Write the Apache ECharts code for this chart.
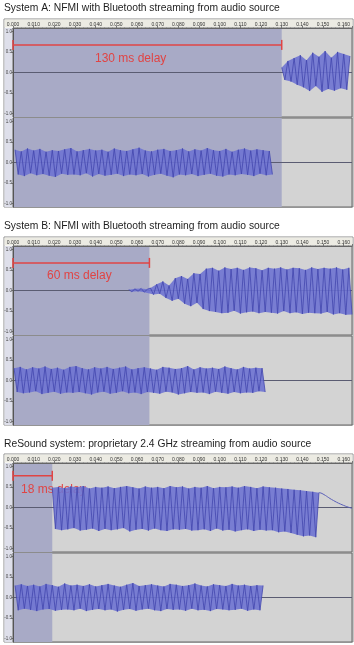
<!DOCTYPE html>
<html>
<head>
<meta charset="utf-8">
<script src="https://cdn.jsdelivr.net/npm/echarts@6/dist/echarts.min.js"></script>
<style>
  html, body { margin: 0; padding: 0; background: #fff; }
  #chart { width: 354px; height: 645px; }
</style>
</head>
<body>
<div id="chart"></div>
<script>
// ---- data ----
const panelTitles = [
  'System A: NFMI with Bluetooth streaming from audio source',
  'System B: NFMI with Bluetooth streaming from audio source',
  'ReSound system: proprietary 2.4 GHz streaming from audio source'
]
const delayLabels = ['130 ms delay', '60 ms delay', '18 ms delay']
const delayEnd = [130, 66, 19]          // ms, end of the shaded span
const timeMax = 164                      // ms shown on the ruler
const yTicks = [-1, -0.5, 0, 0.5, 1]
const STEP = 1.5                         // ms between envelope samples

// envelope samples (alternating peak / trough), start time in ms
const aTopStart = 130
const aTopWave = [0.12,-0.18,0.28,-0.22,0.35,-0.30,0.42,-0.36,0.30,-0.45,0.48,-0.33,0.38,-0.47,0.52,-0.40,0.36,-0.44,0.50,-0.38,0.45,-0.42,0.40]
const aBotStart = 1
const aBotWave = [0.31,-0.29,0.27,-0.33,0.34,-0.26,0.29,-0.31,0.33,-0.28,0.26,-0.32,0.30,-0.35,0.28,-0.27,0.32,-0.30,0.35,-0.29,
  0.27,-0.31,0.30,-0.26,0.33,-0.34,0.29,-0.28,0.31,-0.32,0.26,-0.30,0.34,-0.27,0.30,-0.33,0.28,-0.29,0.32,-0.31,
  0.36,-0.28,0.29,-0.34,0.27,-0.30,0.31,-0.27,0.33,-0.32,0.28,-0.36,0.30,-0.29,0.34,-0.31,0.27,-0.28,0.32,-0.33,
  0.29,-0.30,0.35,-0.27,0.30,-0.32,0.28,-0.34,0.33,-0.29,0.26,-0.31,0.31,-0.28,0.34,-0.30,0.29,-0.33,0.32,-0.27,
  0.30,-0.31,0.28,-0.29]
const bTopStart = 56
const bTopWave = [0.02,-0.03,0.04,-0.02,0.05,-0.04,0.03,
  0.06,-0.10,0.15,-0.08,0.22,-0.18,0.12,-0.25,0.30,-0.20,0.35,-0.32,0.28,-0.38,0.42,-0.30,0.40,-0.45,
  0.53,-0.50,0.55,-0.52,0.48,-0.55,0.56,-0.54,0.52,-0.49,0.55,-0.56,0.50,-0.53,0.56,-0.51,0.54,-0.55,0.49,-0.52,
  0.55,-0.54,0.53,-0.56,0.56,-0.50,0.51,-0.55,0.55,-0.53,0.54,-0.57,0.50,-0.54,0.56,-0.55,0.52,-0.56,0.55,-0.52,
  0.53,-0.58,0.56,-0.55,0.51,-0.59,0.55,-0.58]
const bBotStart = 0.5
const bBotWave = [0.30,-0.28,0.33,-0.31,0.27,-0.29,0.32,-0.26,0.29,-0.33,0.34,-0.30,0.28,-0.27,0.31,-0.32,0.26,-0.29,0.33,-0.30,
  0.35,-0.28,0.30,-0.31,0.27,-0.34,0.32,-0.29,0.29,-0.27,0.33,-0.32,0.28,-0.30,0.31,-0.26,0.34,-0.31,0.27,-0.29,
  0.30,-0.33,0.32,-0.28,0.29,-0.30,0.26,-0.32,0.33,-0.27,0.31,-0.29,0.28,-0.34,0.30,-0.31,0.35,-0.28,0.27,-0.30,
  0.32,-0.29,0.29,-0.33,0.31,-0.27,0.28,-0.30,0.34,-0.32,0.30,-0.28,0.27,-0.31,0.33,-0.29,0.29,-0.30,0.31,-0.26,
  0.30,-0.28]
const cTopStart = 19
const cTopWave = [0.48,-0.52,0.50,-0.55,0.47,-0.53,0.51,-0.50,0.49,-0.56,0.52,-0.54,0.46,-0.51,0.50,-0.57,0.48,-0.52,0.51,-0.55,
  0.47,-0.53,0.50,-0.50,0.52,-0.58,0.49,-0.54,0.46,-0.52,0.51,-0.56,0.48,-0.51,0.50,-0.55,0.47,-0.57,0.52,-0.53,
  0.49,-0.54,0.51,-0.52,0.46,-0.56,0.50,-0.55,0.48,-0.53,0.52,-0.57,0.47,-0.51,0.50,-0.56,0.49,-0.54,0.51,-0.58,
  0.48,-0.55,0.52,-0.53,0.50,-0.57,0.47,-0.54,0.51,-0.56,0.49,-0.55,0.48,-0.60,0.46,-0.58,0.45,-0.62,0.43,-0.66,
  0.42,-0.70,0.40,-0.68,0.38,-0.72,0.36]
// decay tail after the ReSound burst: [ms, amplitude]
const cTopTail = [[148, 0.36], [149.5, 0.34], [155, 0.17], [160, 0.05], [164, -0.02]]
const cBotStart = 1
const cBotWave = [0.29,-0.31,0.32,-0.27,0.28,-0.30,0.31,-0.33,0.27,-0.29,0.33,-0.28,0.30,-0.32,0.26,-0.30,0.34,-0.29,0.29,-0.31,
  0.31,-0.27,0.28,-0.33,0.32,-0.30,0.27,-0.28,0.30,-0.31,0.33,-0.29,0.29,-0.34,0.26,-0.30,0.31,-0.28,0.35,-0.32,
  0.28,-0.29,0.30,-0.27,0.32,-0.31,0.29,-0.33,0.27,-0.28,0.33,-0.30,0.31,-0.29,0.28,-0.32,0.30,-0.27,0.34,-0.31,
  0.29,-0.30,0.27,-0.33,0.32,-0.28,0.30,-0.29,0.28,-0.31,0.33,-0.30,0.29,-0.27,0.31,-0.32,0.28,-0.29,0.30,-0.31,
  0.29]

// ---- layout ----
const titleY = [8, 226, 444]
const rulerTop = [19, 237, 454]
const trackTop = [[28, 118], [246, 336], [463, 553]]
const TRACK_H = 89
const markLevel = [0.67, 0.67, 0.77]
const redTextPos = [[95, 59], [47, 276], [21, 490]]

const waves = [
  [[aTopStart, aTopWave], [aBotStart, aBotWave]],
  [[bTopStart, bTopWave], [bBotStart, bBotWave]],
  [[cTopStart, cTopWave], [cBotStart, cBotWave]]
]

const toPairs = (start, vals) => vals.map((v, i) => [start + i * STEP, v])

const RED = '#e04444'
const FONT = 'Liberation Sans, Arial, sans-serif'
const grid = [], xAxis = [], yAxis = [], series = [], graphic = []

// filled band between the peaks and the troughs of one envelope
function bandSeries(g, pts) {
  const upper = pts.filter(d => d[1] >= 0)
  const lower = pts.filter(d => d[1] < 0).reverse()
  return {
    type: 'custom', xAxisIndex: g, yAxisIndex: g, zlevel: 1, z: 2, silent: true,
    data: [[0, 0]],
    renderItem: (params, api) => ({
      type: 'polygon',
      shape: { points: upper.concat(lower).map(d => api.coord(d)) },
      style: { fill: '#6e73d1', opacity: 0.9 }
    })
  }
}

for (let p = 0; p < 3; p++) {
  const endY = trackTop[p][1] + TRACK_H
  graphic.push(
    { type: 'rect', z: -1, shape: { x: 4, y: rulerTop[p], width: 349, height: endY - rulerTop[p] },
      style: { fill: '#ffffff', stroke: '#8a8a8a', lineWidth: 1 } },
    { type: 'rect', z: -1, shape: { x: 4.5, y: rulerTop[p] + 0.5, width: 348, height: trackTop[p][0] - rulerTop[p] - 1 },
      style: { fill: '#ecebe3' } },
    { type: 'rect', z: -1, shape: { x: 4.5, y: trackTop[p][0], width: 8.5, height: endY - trackTop[p][0] },
      style: { fill: '#dedfea' } },
    { type: 'text', z: 1, x: 4, y: titleY[p],
      style: { text: panelTitles[p], fontSize: 10.3, fontFamily: FONT, fill: '#1e1e1e', verticalAlign: 'middle' } },
    { type: 'text', z: 20, x: redTextPos[p][0], y: redTextPos[p][1],
      style: { text: delayLabels[p], fontSize: 12, fontFamily: FONT, fill: RED, verticalAlign: 'middle' } }
  )

  for (let t = 0; t < 2; t++) {
    const g = p * 2 + t
    const pts = toPairs(waves[p][t][0], waves[p][t][1])
    grid.push({ left: 13, right: 2, top: trackTop[p][t], height: TRACK_H, show: true,
      backgroundColor: '#d3d3d3', borderColor: '#666', borderWidth: 1 })
    xAxis.push({
      gridIndex: g, type: 'value', min: 0, max: timeMax, interval: 10, position: 'top',
      show: t === 0, z: 5,
      axisLine: { show: true, onZero: false, lineStyle: { color: '#666', width: 1 } },
      axisTick: { show: true, length: 2, lineStyle: { color: '#777' } },
      minorTick: { show: true, splitNumber: 5, length: 1, lineStyle: { color: '#999' } },
      axisLabel: { fontSize: 5, color: '#333', margin: 1, formatter: v => (v / 1000).toFixed(3) },
      splitLine: { show: false }
    })
    yAxis.push({
      gridIndex: g, type: 'value', min: -1.08, max: 1.08, z: 5,
      axisLine: { show: true, onZero: false, lineStyle: { color: '#555' } },
      axisTick: { show: true, length: 1.5, customValues: yTicks, lineStyle: { color: '#666' } },
      axisLabel: { fontSize: 4.5, color: '#444', margin: 1, customValues: yTicks,
        formatter: v => v.toFixed(1) },
      splitLine: { show: false }
    })
    // zero line + shaded (selected) span
    series.push({
      type: 'line', xAxisIndex: g, yAxisIndex: g, z: 1, silent: true,
      data: [[0, 0], [timeMax, 0]], symbol: 'none',
      lineStyle: { color: '#5a5c72', width: 1 },
      markArea: { silent: true, itemStyle: { color: '#a8aac6', opacity: 1 },
        data: [[{ xAxis: 0 }, { xAxis: delayEnd[p] }]] }
    })
    // waveform: filled envelope plus the peak-to-trough strokes
    series.push(bandSeries(g, pts))
    series.push({
      type: 'line', xAxisIndex: g, yAxisIndex: g, zlevel: 1, z: 3, silent: true,
      data: pts, symbol: 'none',
      lineStyle: { color: '#4246ad', width: 0.8 }
    })
    if (p === 2 && t === 0) {
      series.push({
        type: 'line', xAxisIndex: g, yAxisIndex: g, zlevel: 1, z: 3, silent: true, smooth: true,
        data: cTopTail, symbol: 'none', lineStyle: { color: '#5a5fb8', width: 1 }
      })
    }
    if (t === 0) {
      // red delay marker
      series.push({
        type: 'line', xAxisIndex: g, yAxisIndex: g, zlevel: 1, z: 4, silent: true, clip: false,
        data: [[0, markLevel[p]], [delayEnd[p], markLevel[p]]],
        symbol: 'rect', symbolSize: [1.5, 10], showSymbol: true,
        itemStyle: { color: RED }, lineStyle: { color: RED, width: 1.5 }
      })
    }
  }
}

const chart = echarts.init(document.getElementById('chart'))
chart.setOption({ animation: false, grid, xAxis, yAxis, series, graphic })
</script>
</body>
</html>
